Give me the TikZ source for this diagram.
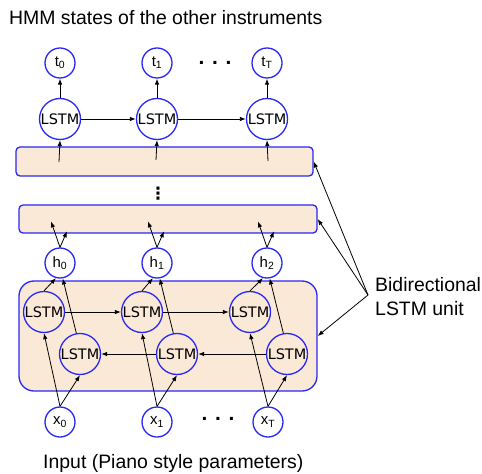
\documentclass[tikz,border=0pt]{standalone}
\usepackage{fontspec}
\setmainfont{Liberation Sans}
\newfontfamily\lstmfont{DejaVu Sans}
\usetikzlibrary{arrows.meta}
\definecolor{cblue}{RGB}{40,40,245}
\definecolor{cfill}{RGB}{251,233,216}
\begin{document}
\begin{tikzpicture}[x=1bp,y=-1bp,
  circ/.style={circle, draw=cblue, line width=1.3bp, inner sep=0pt, minimum size=30bp, font=\fontsize{15}{15}\selectfont},
  lstm/.style={circle, draw=cblue, line width=1.3bp, inner sep=0pt, minimum size=41bp, font=\lstmfont\fontsize{14.5}{15}\selectfont},
  arr/.style={-{Latex[length=6bp,width=4.5bp]}, line width=0.8bp},
  bar/.style={draw=cblue, fill=cfill, line width=1.3bp, rounded corners=4bp, inner sep=0pt},
  lbl/.style={inner sep=0pt, font=\fontsize{19.5}{24}\selectfont},
  dotsty/.style={inner sep=0pt, font=\fontsize{21}{21}\selectfont\bfseries}]
\useasboundingbox (0,0) rectangle (482,474);

% title
\node[lbl, anchor=base west] (title) at (9,25) {HMM states of the other instruments};
\node[lbl, anchor=base west] (input) at (43,468) {Input (Piano style parameters)};

% bars and box
\node[bar, minimum width=297bp, minimum height=29bp] (bar1) at (164.5,161.5) {};
\node[bar, minimum width=298bp, minimum height=28bp] (bar2) at (168,219) {};
\node[bar, rounded corners=15bp, minimum width=298bp, minimum height=110bp] (box) at (168,336) {};

% top row
\foreach \i/\x in {0/60,1/157,2/267}{
  \node[lstm] (L\i) at (\x,119) {LSTM};
}
\node[circ] (t0) at (60,63) {t\textsubscript{0}};
\node[circ] (t1) at (157,63) {t\textsubscript{1}};
\node[circ] (t2) at (267,63) {t\textsubscript{T}};
\node[dotsty] (tdots) at (215,63) {. . .};

\foreach \i in {0,1,2}{ \draw[arr] (L\i.north) -- (t\i.south); }
\draw[arr] (L0.east) -- (L1.west);
\draw[arr] (L1.east) -- (L2.west);

\coordinate (s0) at (59,162);
\coordinate (s1) at (156,160);
\coordinate (s2) at (268,161);
\foreach \i in {0,1,2}{ \draw[arr] (s\i) -- (L\i.south); }

\node[inner sep=0pt, font=\lstmfont\fontsize{17}{17}\selectfont\bfseries] (vdots) at (158,194) {⋮};

% h row
\node[circ] (h0) at (60,263) {h\textsubscript{0}};
\node[circ] (h1) at (157,263) {h\textsubscript{1}};
\node[circ] (h2) at (267,263) {h\textsubscript{2}};
\foreach \i in {0,1,2}{
  \coordinate (ha\i) at ([shift={(-9,-26)}]h\i.north);
  \coordinate (hb\i) at ([shift={(7,-16)}]h\i.north);
  \draw[arr] (h\i.north) -- (ha\i);
  \draw[arr] (h\i.north) -- (hb\i);
}

% bidirectional LSTM
\node[lstm] (F0) at (44,312) {LSTM};
\node[lstm] (F1) at (142,312) {LSTM};
\node[lstm] (F2) at (250,312) {LSTM};
\node[lstm] (B0) at (80,354) {LSTM};
\node[lstm] (B1) at (177,354) {LSTM};
\node[lstm] (B2) at (287,354) {LSTM};
\draw[arr] (F0.east) -- (F1.west);
\draw[arr] (F1.east) -- (F2.west);
\draw[arr] (B2.west) -- (B1.east);
\draw[arr] (B1.west) -- (B0.east);

% inputs
\node[circ] (x0) at (60,422) {x\textsubscript{0}};
\node[circ] (x1) at (157,422) {x\textsubscript{1}};
\node[circ] (x2) at (268,422) {x\textsubscript{T}};
\node[dotsty] (xdots) at (218,419) {. . .};

\foreach \i in {0,1,2}{
  \draw[arr] (x\i.north) -- (F\i.south);
  \draw[arr] (x\i.north) -- (B\i.south);
  \draw[arr] (F\i.north) -- (h\i.-105);
  \draw[arr] (B\i.100) -- (h\i.-80);
}

% label
\node[lbl, anchor=west, align=left] (lab) at (375,297) {Bidirectional\\LSTM unit};
\coordinate (lc) at (368,295);
\draw[arr] (lc) -- (bar1.east);
\draw[arr] (lc) -- (bar2.east);
\draw[arr] (lc) -- (box.east);
\end{tikzpicture}
\end{document}
